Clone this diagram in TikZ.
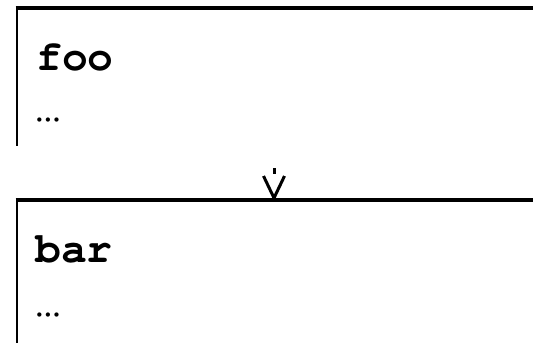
\documentclass[tikz,border=0pt]{standalone}
\usepackage{fontspec}
\setmonofont{TeX Gyre Cursor}
\usetikzlibrary{calc}
\begin{document}
\begin{tikzpicture}[x=1pt,y=-1pt,
  topedge/.style={line width=3.2pt},
  sideedge/.style={line width=2.6pt},
  title/.style={anchor=base west,inner sep=0pt,font=\fontsize{43}{50}\selectfont\ttfamily\bfseries},
  body/.style={anchor=base west,inner sep=0pt,font=\fontsize{43}{50}\selectfont\ttfamily},
  arrowline/.style={line width=3pt}]
  \useasboundingbox (0,0) rectangle (533,343);
  % first block
  \coordinate (b1) at (17,8);
  \coordinate (b1r) at (533,8);
  \coordinate (b1b) at (17,146);
  \draw[topedge] ($(b1)+(-1.3,0)$) -- (b1r);
  \draw[sideedge] (b1) -- (b1b);
  \node[title] (foo) at (36,70) {foo};
  \node[body] (dots1) at (35,121) {…};
  % second block
  \coordinate (b2) at (17,200);
  \coordinate (b2r) at (533,200);
  \coordinate (b2b) at (17,343);
  \draw[topedge] ($(b2)+(-1.3,0)$) -- (b2r);
  \draw[sideedge] (b2) -- (b2b);
  \node[title] (bar) at (35,262) {bar};
  \node[body] (dots2) at (35,316) {…};
  % arrow between the blocks
  \coordinate (tail) at (274,168);
  \coordinate (shaftend) at (274,174);
  \coordinate (head) at (274,198);
  \draw[arrowline] (tail) -- (shaftend);
  \draw[arrowline,line join=miter] ($(head)+(-10.5,-22)$) -- (head) -- ($(head)+(10.5,-22)$);
\end{tikzpicture}
\end{document}
